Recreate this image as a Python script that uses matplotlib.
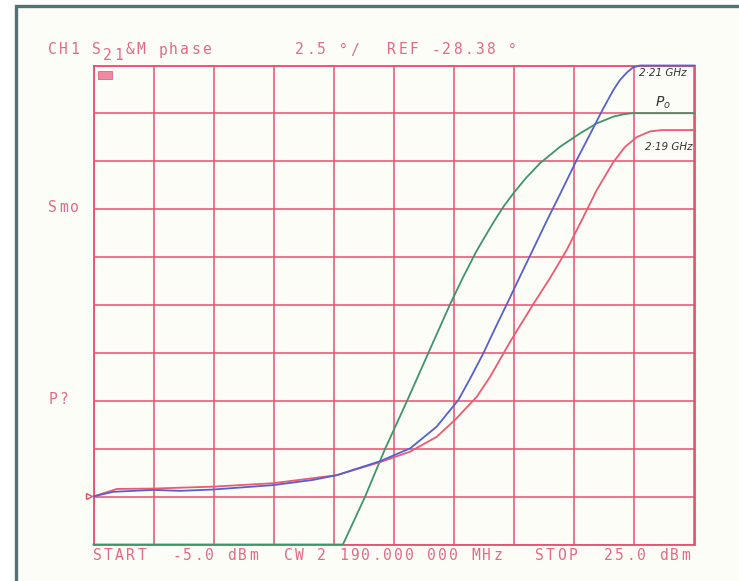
import matplotlib
matplotlib.use("Agg")
import matplotlib.pyplot as plt
from matplotlib.patches import Rectangle

# Network analyser sweep: input power (dBm) vs S21 phase (deg)
REF_DEG = -28.38
DEG_PER_DIV = 2.5
START_DBM, STOP_DBM = -5.0, 25.0

# 2.21 GHz trace
blue_pin = [-4.97, -4.01, -2.0, -0.68, 0.97, 3.97, 5.95, 7.15, 9.31, 10.81, 12.13,
            13.21, 13.79, 14.46, 15.04, 15.63, 16.29, 16.95, 17.62, 18.29, 19.12, 19.78,
            20.43, 20.95, 21.28, 21.62, 21.93, 22.28, 25.0]
blue_phase = [-38.36, -38.13, -38.03, -38.08, -38.01, -37.78, -37.51, -37.26, -36.53,
              -35.86, -34.73, -33.34, -32.24, -30.90, -29.61, -28.34, -26.89, -25.46,
              -24.00, -22.59, -20.81, -19.48, -18.15, -17.16, -16.64, -16.25, -15.98,
              -15.88, -15.88]

# 2.19 GHz trace
red_pin = [-4.97, -3.83, -2.0, 0.97, 3.97, 7.15, 9.31, 10.81, 12.13, 13.04, 14.13, 14.79,
           15.79, 16.95, 17.79, 18.62, 19.45, 20.12, 20.95, 21.53, 22.13, 22.78, 23.38,
           25.0]
red_phase = [-38.36, -37.98, -37.96, -37.86, -37.68, -37.26, -36.58, -36.03, -35.26,
             -34.38, -33.17, -32.14, -30.31, -28.34, -26.97, -25.51, -23.79, -22.38,
             -20.92, -20.13, -19.61, -19.32, -19.25, -19.25]

# output power trace (Po)
green_pin = [-5.0, 7.45, 8.55, 9.55, 10.65, 11.63, 12.80, 13.44, 14.09, 14.59, 15.04,
             15.49, 15.96, 16.59, 17.29, 18.29, 19.29, 20.12, 20.95, 21.43, 21.87, 25.0]
green_phase = [-40.88, -40.88, -38.40, -35.90, -33.39, -31.08, -28.34, -26.95, -25.62,
               -24.72, -23.94, -23.21, -22.55, -21.75, -20.98, -20.12, -19.42, -18.90,
               -18.55, -18.43, -18.37, -18.37]

GRID = "#e8506e"
TXT = "#e26a84"
BG = "#fdfdf8"

fig = plt.figure(figsize=(7.39, 5.81), dpi=100, facecolor="white")
W, H = 739, 581

# dark frame, open on the right and bottom
fig.patches.append(Rectangle((16 / W, -0.05), 1.1, 1.05 - 6 / H,
                             transform=fig.transFigure, facecolor=BG,
                             edgecolor="#4e7575", linewidth=2.4, zorder=-10))

ax = fig.add_axes([93.5 / W, 1 - 544.5 / H, 601 / W, 479 / H], zorder=1)
ax.set_facecolor(BG)

ylo = REF_DEG - 5 * DEG_PER_DIV
yhi = REF_DEG + 5 * DEG_PER_DIV
ax.set_xlim(START_DBM, STOP_DBM)
ax.set_ylim(ylo, yhi)
ax.set_xticks([START_DBM + 3 * i for i in range(11)])
ax.set_yticks([ylo + DEG_PER_DIV * i for i in range(11)])
ax.tick_params(length=0, labelbottom=False, labelleft=False)
ax.grid(True, color=GRID, linewidth=1.1)
for s in ax.spines.values():
    s.set_color(GRID)
    s.set_linewidth(1.3)

ax.plot(green_pin, green_phase, color="#3f9468", lw=1.3, zorder=3, clip_on=False)
ax.plot(red_pin, red_phase, color="#ec5a72", lw=1.3, zorder=4, clip_on=False)
ax.plot(blue_pin, blue_phase, color="#5560d0", lw=1.3, zorder=5, clip_on=False)

# reference marker at left edge
ax.plot([START_DBM - 0.2], [blue_phase[0]], marker=">", ms=5, mfc="none",
        mec=GRID, mew=1, clip_on=False)

# small status box
fig.patches.append(Rectangle((98 / W, 1 - 79 / H), 14 / W, 8 / H, transform=fig.transFigure,
                             facecolor="#f08aa0", edgecolor="#e0657f", lw=0.6, zorder=5))


def plotter_text(x, y, s, pitch=11.0, size=10.5, sub=()):
    """Write s one glyph at a time on a fixed pitch, like a pen plotter."""
    for i, ch in enumerate(s):
        if ch == " ":
            continue
        cx = x + (i + 0.5) * pitch
        cy = y + 5 if i in sub else y
        fig.text(cx / W, 1 - cy / H, ch, family="DejaVu Sans Mono", color=TXT,
                 fontsize=size, ha="center", va="center", zorder=6)


plotter_text(47, 50, "CH1 S21&M phase", sub=(5, 6))
plotter_text(294, 50, "2.5 °/")
plotter_text(386, 50, "REF -28.38 °")
plotter_text(47, 208, "Smo")
plotter_text(47, 400, "P?")
plotter_text(92, 556, "START")
plotter_text(171, 556, "-5.0 dBm")
plotter_text(283, 556, "CW 2 190.000 000 MHz")
plotter_text(534, 556, "STOP")
plotter_text(603, 556, "25.0 dBm")

# hand-written trace labels
hand = dict(color="#333333", fontsize=7.5, style="italic", va="center", zorder=6)
fig.text(639 / W, 1 - 73 / H, "2·21 GHz", **hand)
fig.text(655 / W, 1 - 103 / H, "P$_o$", color="#333333", fontsize=10, style="italic",
         va="center", zorder=6)
fig.text(645 / W, 1 - 147 / H, "2·19 GHz", **hand)

fig.savefig("out.png", dpi=100, facecolor="white")
